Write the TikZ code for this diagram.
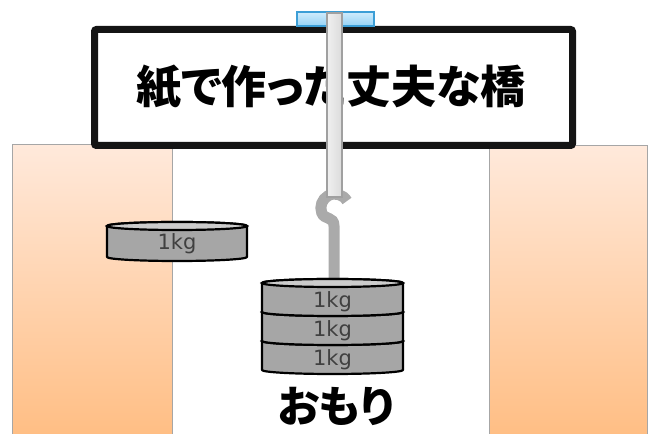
\documentclass[tikz,border=0pt]{standalone}
\usepackage{fontspec}
\setmainfont{DejaVu Sans}
\newfontfamily\jpfont[RawFeature=+palt]{Noto Sans CJK JP}

\definecolor{pillartop}{RGB}{255,233,219}
\definecolor{pillarbot}{RGB}{255,190,132}
\definecolor{weightgrey}{RGB}{166,166,166}
\definecolor{weightlight}{RGB}{204,204,204}
\definecolor{hookgrey}{RGB}{170,170,170}
\definecolor{rodgrey}{RGB}{160,160,160}
\definecolor{platetop}{RGB}{208,236,252}
\definecolor{platebot}{RGB}{150,210,245}
\definecolor{plateedge}{RGB}{60,158,214}

\tikzset{
  pillar/.style={draw=black!35, line width=1pt, top color=pillartop, bottom color=pillarbot},
  bridge/.style={draw=black!92, line width=7pt, fill=white, rounded corners=2pt},
  plate/.style={draw=plateedge, line width=1.5pt, top color=platetop, bottom color=platebot},
  rod/.style={draw=rodgrey, line width=1.5pt, left color=black!6, right color=black!14},
  hookline/.style={draw=hookgrey, line width=11pt},
  weight/.style={draw=black, line width=2.2pt, fill=weightgrey, line join=round},
  weighttop/.style={draw=black, line width=2.2pt, fill=weightlight},
  kg/.style={font=\fontsize{21}{21}\selectfont, text=black!75},
  title/.style={font=\jpfont\bfseries\fontsize{45}{45}\selectfont},
}

% #1 left, #2 right, #3 top, #4 height
\newcommand\kgweight[4]{%
  \pgfmathsetmacro\wrx{(#2-#1)/2}
  \pgfmathsetmacro\wbot{#3-#4}
  \filldraw[weight] (#1,#3) -- (#1,\wbot)
    arc[start angle=180, end angle=360, x radius=\wrx, y radius=4] -- (#2,#3)
    arc[start angle=0, end angle=180, x radius=\wrx, y radius=4] -- cycle;
  \filldraw[weighttop] ({(#1+#2)/2},#3) ellipse[x radius=\wrx, y radius=4];
}

\begin{document}
\begin{tikzpicture}[x=1pt, y=1pt]
  \useasboundingbox (0,0) rectangle (649,434);

  \path[pillar] (12,-2) rectangle (172,289);
  \path[pillar] (489,-2) rectangle (647,288);

  \draw[bridge] (94.5,288.5) rectangle (572.5,404.5);
  \node[title] (bridgename) at (331,347) {紙で作った丈夫な橋};

  \path[plate] (297,408) rectangle (374,422);

  \draw[hookline, line cap=butt] (347,233)
    arc[start angle=30, end angle=200, radius=14]
    .. controls (324.5,213.7) and (334,218) .. (334,208) -- (334,150);
  \path[rod] (327,237) rectangle (342,421);

  \kgweight{107}{247}{208}{31}
  \node[kg] (single) at (177,190) {1kg};

  \kgweight{262}{403}{93}{29}
  \kgweight{262}{403}{122}{29}
  \kgweight{262}{403}{151}{29}
  \node[kg] (kgA) at (332.5,132) {1kg};
  \node[kg] (kgB) at (332.5,103) {1kg};
  \node[kg] (kgC) at (332.5,74) {1kg};

  \node[title, font=\jpfont\bfseries\fontsize{43}{43}\selectfont] (omori) at (336,28) {おもり};
\end{tikzpicture}
\end{document}
